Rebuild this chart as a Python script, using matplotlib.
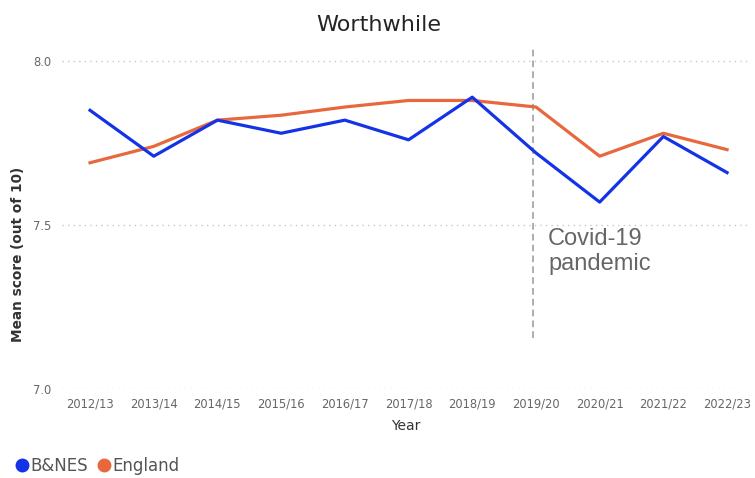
import matplotlib
matplotlib.use('Agg')
import matplotlib.pyplot as plt
from matplotlib.lines import Line2D

years = ['2012/13', '2013/14', '2014/15', '2015/16', '2016/17', '2017/18',
         '2018/19', '2019/20', '2020/21', '2021/22', '2022/23']
bnes = [7.85, 7.71, 7.82, 7.78, 7.82, 7.76, 7.89, 7.72, 7.57, 7.77, 7.66]
england = [7.69, 7.74, 7.82, 7.835, 7.86, 7.88, 7.88, 7.86, 7.71, 7.78, 7.73]
covid_year = 6.95

blue = '#1533E6'
orange = '#E8683D'

fig = plt.figure(figsize=(7.55, 4.78), dpi=100)
ax = fig.add_axes([62/755, 1-389/478, 688/755, (389-48)/478])

x = list(range(len(years)))
ax.plot(x, england, color=orange, lw=2.3, zorder=3)
ax.plot(x, bnes, color=blue, lw=2.3, zorder=4)

# covid marker line
ax.plot([covid_year, covid_year], [7.155, 8.04], color='#a0a0a0', lw=1.2,
        ls=(0, (4, 2.5)), zorder=2)
ax.text(covid_year + 0.24, 7.42, 'Covid-19\npandemic', color='#666666',
        fontsize=17, family='Liberation Sans', va='center', ha='left',
        linespacing=1.15)

ax.set_xlim(-0.44, 10.36)
ax.set_ylim(7.0, 8.04)
ax.set_yticks([7.0, 7.5, 8.0])
ax.set_yticklabels(['7.0', '7.5', '8.0'])
ax.set_xticks(x)
ax.set_xticklabels(years)
for yv in [7.0, 7.5, 8.0]:
    ax.axhline(yv, color='#c8c8c8', lw=1, ls=(0, (1, 3)), zorder=1)

for s in ax.spines.values():
    s.set_visible(False)
ax.tick_params(length=0, colors='#666666', labelsize=8.3)
ax.tick_params(axis='x', pad=6)
ax.tick_params(axis='y', pad=8)

ax.set_xlabel('Year', fontsize=10, color='#333333', labelpad=6)
fig.text(18/755, 1-254/478, 'Mean score (out of 10)', fontsize=9.8,
         color='#333333', fontweight='bold', rotation=90,
         ha='center', va='center')

fig.text(379/755, 1-25/478, 'Worthwhile', fontsize=16, color='#252423',
         ha='center', va='center')

handles = [Line2D([], [], marker='o', ls='', color=blue, markersize=9),
           Line2D([], [], marker='o', ls='', color=orange, markersize=9)]
fig.legend(handles, ['B&NES', 'England'], loc='center left',
           bbox_to_anchor=(16/755, 1-466/478), frameon=False, ncol=2,
           handletextpad=0.15, columnspacing=0.6, fontsize=12,
           labelcolor='#555555', handlelength=0.7, borderpad=0,
           borderaxespad=0)

fig.savefig('out.png', dpi=100)
